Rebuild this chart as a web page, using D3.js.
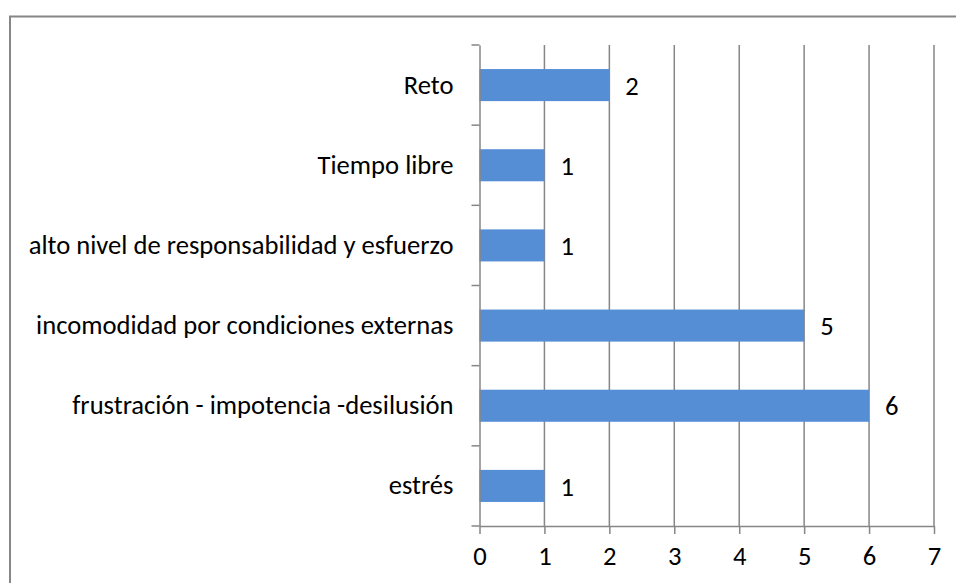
<!DOCTYPE html>
<html>
<head>
<meta charset="utf-8">
<script src="https://cdn.jsdelivr.net/npm/d3@7"></script>
<style>
  body { margin: 0; background: #fff; }
  svg text { font-family: Carlito, "Open Sans", sans-serif; fill: #000; }
</style>
</head>
<body>
<svg id="chart" width="956" height="583"></svg>
<script>
// categories top to bottom, as in the picture
const categories = [
  "Reto",
  "Tiempo libre",
  "alto nivel de responsabilidad y esfuerzo",
  "incomodidad por condiciones externas",
  "frustración - impotencia -desilusión",
  "estrés"
];
const values = [2, 1, 1, 5, 6, 1];
const xTicks = [0, 1, 2, 3, 4, 5, 6, 7];

const svg = d3.select("#chart");
const margin = { top: 45, left: 479.5, right: 22, bottom: 57 };
const W = 956, H = 583;
const grey = "#868686";

// pick a font size so the longest label spans about the same width as the picture
const probe = svg.append("text").attr("font-size", 20).text(categories[2]);
const fs = Math.min(27, 20 * 425 / probe.node().getComputedTextLength());
probe.remove();

// outer frame (top and left edges visible)
svg.append("line").attr("x1", 9).attr("x2", W).attr("y1", 16.5).attr("y2", 16.5)
  .attr("stroke", grey).attr("stroke-width", 2);
svg.append("line").attr("x1", 10).attr("x2", 10).attr("y1", 16).attr("y2", H)
  .attr("stroke", grey).attr("stroke-width", 2);

const x = d3.scaleLinear().domain([0, 7]).range([margin.left, W - margin.right]);
const y = d3.scaleBand().domain(categories).range([margin.top, H - margin.bottom]).paddingInner(0.6).paddingOuter(0.3);

// vertical gridlines
svg.append("g").selectAll("line").data(xTicks.slice(1)).join("line")
  .attr("x1", d => x(d)).attr("x2", d => x(d))
  .attr("y1", margin.top).attr("y2", H - margin.bottom)
  .attr("stroke", grey).attr("stroke-width", 1.5);

// bars
svg.append("g").selectAll("rect").data(categories).join("rect")
  .attr("x", x(0))
  .attr("y", d => y(d))
  .attr("width", (d, i) => x(values[i]) - x(0))
  .attr("height", y.bandwidth())
  .attr("fill", "#558ed5");

// value labels
svg.append("g").selectAll("text").data(categories).join("text")
  .attr("x", (d, i) => x(values[i]) + 16)
  .attr("y", d => y(d) + y.bandwidth() / 2)
  .attr("dy", "0.36em")
  .attr("font-size", fs)
  .text((d, i) => values[i]);

// y axis
const yAxisScale = d3.scaleBand().domain(categories).range([margin.top, H - margin.bottom]);
const yAxis = svg.append("g").attr("transform", `translate(${x(0)},0)`)
  .call(d3.axisLeft(yAxisScale).tickSize(0).tickPadding(26));
yAxis.select(".domain").attr("stroke", grey).attr("stroke-width", 1.5);
yAxis.selectAll("text").attr("font-size", fs).style("font-family", "Carlito, 'Open Sans', sans-serif");
// y tick marks on band boundaries
const yBounds = categories.map(c => yAxisScale(c)).concat([H - margin.bottom]);
svg.append("g").selectAll("line").data(yBounds).join("line")
  .attr("x1", x(0) - 8).attr("x2", x(0))
  .attr("y1", d => d).attr("y2", d => d)
  .attr("stroke", grey).attr("stroke-width", 1.5);

// x axis
const xAxis = svg.append("g").attr("transform", `translate(0,${H - margin.bottom})`)
  .call(d3.axisBottom(x).tickValues(xTicks).tickFormat(d3.format("d")).tickSize(8).tickSizeOuter(0).tickPadding(12));
xAxis.select(".domain").attr("stroke", grey).attr("stroke-width", 1.5);
xAxis.selectAll(".tick line").attr("stroke", grey).attr("stroke-width", 1.5);
xAxis.selectAll("text").attr("font-size", fs).style("font-family", "Carlito, 'Open Sans', sans-serif");
</script>
</body>
</html>
